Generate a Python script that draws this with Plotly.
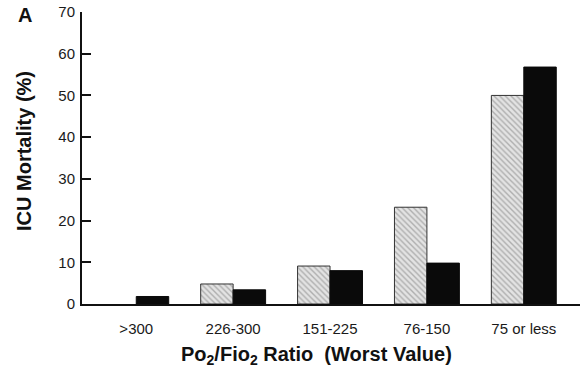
import plotly.graph_objects as go

categories = [">300", "226-300", "151-225", "76-150", "75 or less"]
hatched_values = [None, 4.8, 9.1, 23.2, 50.0]
black_values = [1.8, 3.4, 8.0, 9.8, 56.8]
y_ticks = [0, 10, 20, 30, 40, 50, 60, 70]

FONT = "Liberation Sans, Arial, Helvetica, sans-serif"
L, T, W, H = 82, 12, 498, 292  # plot area in pixels

fig = go.Figure()
fig.add_trace(go.Bar(
    x=categories, y=hatched_values, name="hatched",
    marker=dict(
        color="#e3e3e3",
        line=dict(color="#333333", width=1),
        pattern=dict(shape="\\", fgcolor="#7a7a7a", bgcolor="#e3e3e3", size=4, solidity=0.35),
    ),
))
fig.add_trace(go.Bar(
    x=categories, y=black_values, name="black",
    marker=dict(color="#0a0a0a", line=dict(color="#0a0a0a", width=1)),
))

fig.update_layout(
    width=580, height=374,
    margin=dict(l=L, r=580 - L - W, t=T, b=374 - T - H),
    paper_bgcolor="white", plot_bgcolor="white",
    barmode="group", bargap=0.33, bargroupgap=0,
    showlegend=False,
    font=dict(family=FONT, color="#1a1a1a"),
)
fig.update_xaxes(
    range=[-0.56, 4.58],
    showline=True, linecolor="#111", linewidth=2,
    ticks="", showgrid=False,
    tickfont=dict(size=15, family=FONT, color="#1a1a1a"),
    ticklabelstandoff=10,
)
fig.update_yaxes(
    range=[0, 70], tickvals=y_ticks,
    showline=True, linecolor="#111", linewidth=2,
    ticks="inside", ticklen=9, tickwidth=2, tickcolor="#111",
    showgrid=False, zeroline=False,
    tickfont=dict(size=15, family=FONT, color="#1a1a1a"),
    ticklabelstandoff=2,
)

def px(xp, yp):
    return (xp - L) / W, 1 - (yp - T) / H

ax, ay = px(25, 15)
fig.add_annotation(text="<b>A</b>", xref="paper", yref="paper", x=ax, y=ay,
                   xanchor="center", yanchor="middle", showarrow=False,
                   font=dict(size=20, family=FONT, color="#111"))
tx, ty = px(24, 151)
fig.add_annotation(text="<b>ICU Mortality (%)</b>", xref="paper", yref="paper", x=tx, y=ty,
                   xanchor="center", yanchor="middle", textangle=-90, showarrow=False,
                   font=dict(size=20, family=FONT, color="#111"))
bx, by = px(316, 355)
fig.add_annotation(text="<b>Po<sub>2</sub>/Fio<sub>2</sub> Ratio  (Worst Value)</b>",
                   xref="paper", yref="paper", x=bx, y=by,
                   xanchor="center", yanchor="middle", showarrow=False,
                   font=dict(size=20, family=FONT, color="#111"))

fig.write_html("out.html")
